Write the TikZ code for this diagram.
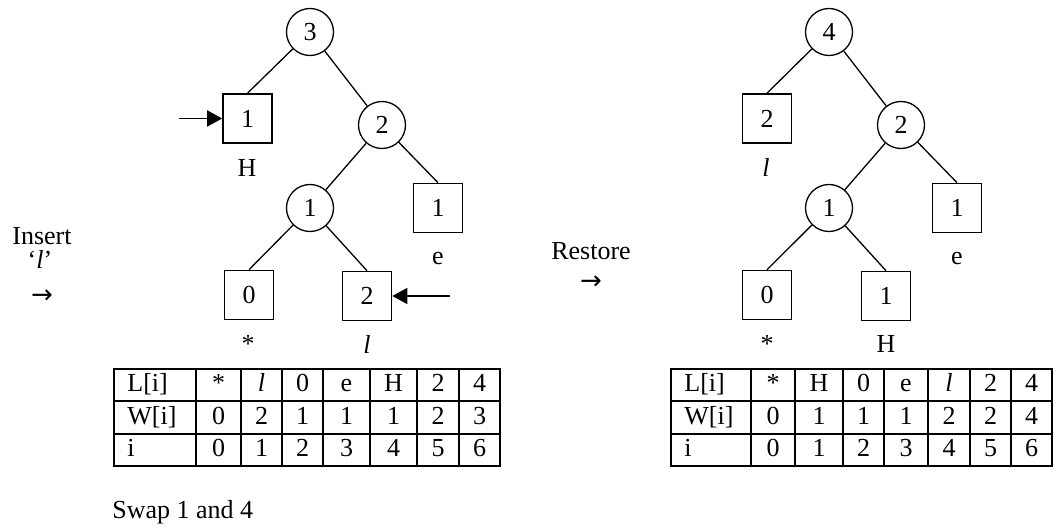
\documentclass[tikz,border=0pt]{standalone}
\usepackage{fontspec}
\setmainfont{Liberation Serif}
\newfontfamily\arrowfont{DejaVu Sans}
\usetikzlibrary{positioning, arrows.meta, calc}
\tikzset{
    inode/.style={
        circle,
        draw,
        line width=0.65pt,
        minimum size=23.5pt,
        inner sep=0pt
    },
    leafnode/.style={
        rectangle,
        draw,
        line width=0.8pt,
        minimum size=24.5pt,
        inner sep=0pt
    },
    treeline/.style={line width=0.65pt},
    ptr/.style={
        -{Triangle[length=7.5pt,width=8pt]},
        line width=0.75pt
    },
    cell/.style={inner sep=0pt, text height=9pt, text depth=2.5pt},
    tabline/.style={line width=1.1pt}
}

\begin{document}
\begin{tikzpicture}[x=0.5pt, y=-0.5pt, font=\fontsize{13}{15}\selectfont]
                \useasboundingbox (0,0) rectangle (1061,529);
                % 1. Cay ben trai (sau khi chen l)
                \node[inode] (n3) at (310,32) {3};
                \node[leafnode] (b1) at (247.5,118.5) {1};
                \node[cell] (lH) at (247,170) {H};
                \node[inode] (n2) at (382,125) {2};
                \node[inode] (n1) at (310,208) {1};
                \node[leafnode] (be) at (438,208) {1};
                \node[cell] (le) at (438,258) {e};
                \node[leafnode] (b0) at (249,295) {0};
                \node[cell] (ls) at (248,346) {*};
                \node[leafnode] (bl) at (367,296) {2};
                \node[cell] (ll) at (367,347) {\textit{l}};
                \draw[treeline] (n3) -- (b1.north);
                \draw[treeline] (n3) -- (n2);
                \draw[treeline] (n2) -- (n1);
                \draw[treeline] (n2) -- (be.north);
                \draw[treeline] (n1) -- (b0.north);
                \draw[treeline] (n1) -- (bl.north);
                \coordinate (pH) at (179,118.5);
                \coordinate (pl) at (450,296);
                \draw[ptr] (pH) -- (b1.west);
                \draw[ptr] (pl) -- (bl.east);

                % 2. Chu thich
                \node[cell] (ins) at (42,238) {Insert};
                \node[cell] (insl) at (40,262) {`\textit{l}'};
                \node[cell] (insa) at (42,297) {\arrowfont →};
                \node[cell] (res) at (591,253) {Restore};
                \node[cell] (resa) at (591,283) {\arrowfont →};
                \node[cell, anchor=west] (swap) at (112,512) {Swap 1 and 4};

                % 3. Bang ben trai
                \draw[tabline] (114,369) rectangle (500,466);
                \draw[tabline] (114,401) -- (500,401) (114,434) -- (500,434);
                \foreach \x in {196,241,282,323,370,417,459}
                    \draw[tabline] (\x,369) -- (\x,466);
                \node[cell, anchor=west] (tL-h) at (127,385) {L[i]};
                \node[cell, anchor=west] (tW-h) at (127,417.5) {W[i]};
                \node[cell, anchor=west] (tI-h) at (127,450) {i};
                \foreach \xa/\xb/\l/\w/\i in {196/241/*/0/0, 241/282/\textit{l}/2/1, 282/323/0/1/2, 323/370/e/1/3, 370/417/H/1/4, 417/459/2/2/5, 459/500/4/3/6} {
                    \node[cell] (tL-\i) at ({(\xa+\xb)/2},385) {\l};
                    \node[cell] (tW-\i) at ({(\xa+\xb)/2},417.5) {\w};
                    \node[cell] (tI-\i) at ({(\xa+\xb)/2},450) {\i};
                }

                % 4. Cay ben phai (sau khi sap lai)
                \node[inode] (r4) at (829,32) {4};
                \node[leafnode] (rb2) at (767,118.5) {2};
                \node[cell] (rll) at (766,170) {\textit{l}};
                \node[inode] (r2) at (901,125) {2};
                \node[inode] (r1) at (829,208) {1};
                \node[leafnode] (rbe) at (957,208) {1};
                \node[cell] (rle) at (957,258) {e};
                \node[leafnode] (rb0) at (767,295) {0};
                \node[cell] (rls) at (767,346) {*};
                \node[leafnode] (rbH) at (886,296) {1};
                \node[cell] (rlH) at (886,346) {H};
                \draw[treeline] (r4) -- (rb2.north);
                \draw[treeline] (r4) -- (r2);
                \draw[treeline] (r2) -- (r1);
                \draw[treeline] (r2) -- (rbe.north);
                \draw[treeline] (r1) -- (rb0.north);
                \draw[treeline] (r1) -- (rbH.north);

                % 5. Bang ben phai
                \draw[tabline] (671,369) rectangle (1052,466);
                \draw[tabline] (671,401) -- (1052,401) (671,434) -- (1052,434);
                \foreach \x in {751,795,843,884,928,970,1011}
                    \draw[tabline] (\x,369) -- (\x,466);
                \node[cell, anchor=west] (rL-h) at (684,385) {L[i]};
                \node[cell, anchor=west] (rW-h) at (684,417.5) {W[i]};
                \node[cell, anchor=west] (rI-h) at (684,450) {i};
                \foreach \xa/\xb/\l/\w/\i in {751/795/*/0/0, 795/843/H/1/1, 843/884/0/1/2, 884/928/e/1/3, 928/970/\textit{l}/2/4, 970/1011/2/2/5, 1011/1052/4/4/6} {
                    \node[cell] (rL-\i) at ({(\xa+\xb)/2},385) {\l};
                    \node[cell] (rW-\i) at ({(\xa+\xb)/2},417.5) {\w};
                    \node[cell] (rI-\i) at ({(\xa+\xb)/2},450) {\i};
                }
            \end{tikzpicture}
\end{document}
